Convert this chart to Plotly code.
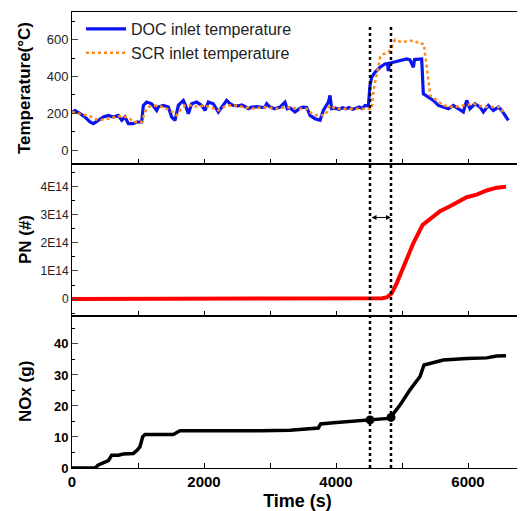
import plotly.graph_objects as go
from plotly.subplots import make_subplots

# DOC inlet temperature (s, degC)
doc_t = [0, 45, 121, 197, 273, 323, 399, 475, 551, 626, 702, 753, 803, 854, 929, 980, 1056,
         1081, 1131, 1207, 1283, 1308, 1384, 1460, 1510, 1561, 1611, 1687, 1712, 1740, 1763,
         1813, 1889, 1965, 2015, 2066, 2141, 2217, 2268, 2343, 2394, 2444, 2520, 2570, 2620,
         2672, 2722, 2800, 2870, 2924, 2950, 3000, 3076, 3151, 3227, 3260, 3300, 3379, 3455,
         3500, 3556, 3606, 3682, 3758, 3808, 3884, 3909, 3934, 3985, 4050, 4100, 4150, 4200,
         4250, 4300, 4350, 4400, 4439, 4490, 4515, 4541, 4591, 4667, 4742, 4780, 4793, 4810,
         4869, 4970, 5071, 5120, 5172, 5190, 5240, 5298, 5323, 5348, 5399, 5475, 5551, 5626,
         5702, 5778, 5853, 5929, 5980, 6030, 6106, 6182, 6232, 6308, 6384, 6460, 6510, 6561, 6611]
doc_temp = [205, 215, 198, 180, 153, 144, 162, 180, 189, 180, 189, 162, 180, 144, 144, 153, 153,
            243, 261, 252, 216, 234, 243, 234, 180, 162, 243, 270, 250, 216, 198,
            252, 261, 243, 216, 261, 252, 207, 234, 270, 252, 243, 240, 245, 238,
            225, 234, 236, 232, 234, 252, 234, 225, 234, 261, 225, 230, 207, 228,
            234, 232, 189, 171, 162, 216, 261, 297, 225, 228, 222, 230, 225, 232,
            222, 228, 234, 226, 243, 240, 351, 396, 423, 450, 468, 470, 430, 472,
            477, 486, 495, 490, 450, 492, 495, 495, 306, 300, 288, 270, 243, 234,
            225, 243, 225, 207, 270, 225, 252, 234, 207, 243, 216, 234, 216, 189, 162]

# SCR inlet temperature (s, degC)
scr_t = [0, 121, 273, 399, 551, 702, 854, 929, 1056, 1106, 1156, 1232, 1384, 1485, 1586, 1636,
         1712, 1813, 1914, 1990, 2091, 2217, 2343, 2470, 2621, 2722, 2924, 3101, 3227, 3429,
         3556, 3632, 3707, 3834, 3909, 3985, 4187, 4439, 4541, 4566, 4591, 4641, 4667, 4717,
         4793, 4843, 4894, 4995, 5096, 5197, 5260, 5330, 5370, 5404, 5429, 5530, 5631, 5783,
         5934, 6086, 6237, 6389, 6490, 6545]
scr_temp = [207, 198, 184, 162, 171, 184, 180, 153, 153, 207, 234, 243, 234, 216, 189, 216,
            243, 243, 234, 243, 234, 216, 243, 243, 234, 225, 234, 225, 234, 225,
            225, 198, 189, 189, 243, 225, 225, 225, 225, 315, 369, 450, 504, 522,
            531, 558, 600, 585, 594, 594, 577, 577, 450, 342, 297, 270, 243, 234,
            243, 252, 234, 234, 234, 198]

# cumulative particle number
pn_t = [0, 4000, 4700, 4768, 4843, 4919, 5020, 5172, 5313, 5424, 5576, 5727, 5879, 5980,
        6131, 6283, 6434, 6576]
pn = [0, 0.02e14, 0.03e14, 0.06e14, 0.2e14, 0.56e14, 1.15e14, 1.99e14, 2.64e14, 2.85e14,
      3.12e14, 3.3e14, 3.48e14, 3.62e14, 3.71e14, 3.86e14, 3.96e14, 3.99e14]

# cumulative NOx (g)
nox_t = [0, 348, 399, 475, 551, 601, 702, 778, 929, 990, 1030, 1071, 1106, 1535, 1586, 1636,
         2848, 3303, 3732, 3768, 3960, 4505, 4793, 4843, 4970, 5121, 5273, 5333, 5475, 5626,
         5980, 6283, 6434, 6576]
nox = [0, 0, 1.0, 1.7, 2.4, 4.1, 4.1, 4.5, 4.7, 5.8, 6.9, 10.1, 10.8, 10.8, 11.4, 12.0,
       12.0, 12.2, 12.9, 14.2, 14.6, 15.5, 16.0, 16.8, 20.3, 25.2, 29.5, 33.2, 34.0, 34.8,
       35.3, 35.5, 36.1, 36.2]

event_t = [4515, 4833]
event_nox = [15.5, 16.3]
arrow_pn = 2.9e14

pn_ticks = [0, 1e14, 2e14, 3e14, 4e14]
pn_labels = ["0", "1E14", "2E14", "3E14", "4E14"]

FONT = "Liberation Sans, Arial, sans-serif"

fig = make_subplots(rows=3, cols=1, shared_xaxes=True, vertical_spacing=0)

fig.add_trace(go.Scatter(x=doc_t, y=doc_temp, mode="lines", name="DOC inlet temperature",
                         line=dict(color="#0a14f0", width=3.2)), row=1, col=1)
fig.add_trace(go.Scatter(x=scr_t, y=scr_temp, mode="lines", name="SCR inlet temperature",
                         line=dict(color="#ff8a1c", width=2.5, dash="dot")), row=1, col=1)
fig.add_trace(go.Scatter(x=pn_t, y=pn, mode="lines", showlegend=False,
                         line=dict(color="#ff0000", width=4)), row=2, col=1)
fig.add_trace(go.Scatter(x=nox_t, y=nox, mode="lines", showlegend=False,
                         line=dict(color="black", width=3.5)), row=3, col=1)
fig.add_trace(go.Scatter(x=event_t, y=event_nox, mode="markers", showlegend=False,
                         marker=dict(color="black", size=9)), row=3, col=1)

# dotted event lines spanning all three panels
for t in event_t:
    fig.add_shape(type="line", xref="x", yref="paper", x0=t, x1=t, y0=0, y1=0.967,
                  line=dict(color="black", width=2.5, dash="dot"))

fig.add_annotation(x=event_t[1], y=arrow_pn, ax=event_t[0], ay=arrow_pn,
                   xref="x2", yref="y2", axref="x2", ayref="y2", text="",
                   showarrow=True, arrowhead=2, arrowside="end+start",
                   arrowsize=1, arrowwidth=1, arrowcolor="black")

axis_common = dict(showline=True, linecolor="black", linewidth=1, mirror=True,
                   ticks="inside", showgrid=False, zeroline=False)

fig.update_xaxes(range=[0, 6833], dtick=2000, ticklen=5, tickwidth=1, tickcolor="black",
                 minor=dict(dtick=1000, ticks="inside", ticklen=5, tickcolor="black"),
                 **axis_common)
fig.update_xaxes(showticklabels=False, row=1, col=1)
fig.update_xaxes(showticklabels=False, row=2, col=1)
fig.update_xaxes(tickfont=dict(size=15, color="black", family=FONT, weight="bold"),
                 title=dict(text="Time (s)", standoff=6,
                            font=dict(size=18, color="black", family=FONT, weight="bold")),
                 row=3, col=1)

fig.update_yaxes(range=[-75, 750], tickvals=[0, 200, 400, 600], ticklen=6,
                 tickfont=dict(size=13, color="#222", family=FONT),
                 minor=dict(dtick=100, ticks="inside", ticklen=3, tickcolor="black"),
                 row=1, col=1, **axis_common)
fig.update_yaxes(range=[-0.6e14, 4.8e14], tickvals=pn_ticks, ticktext=pn_labels, ticklen=6,
                 tickfont=dict(size=12, color="#222", family=FONT),
                 minor=dict(dtick=0.5e14, ticks="inside", ticklen=3, tickcolor="black"),
                 row=2, col=1, **axis_common)
fig.update_yaxes(range=[0, 49], tickvals=[0, 10, 20, 30, 40], ticklen=6,
                 tickfont=dict(size=13, color="black", family=FONT, weight="bold"),
                 minor=dict(dtick=5, ticks="inside", ticklen=3, tickcolor="black"),
                 row=3, col=1, **axis_common)

title_font = dict(size=17, color="black", family=FONT, weight="bold")
for text, yc in [("Temperature(°C)", 5 / 6), ("PN (#)", 0.5), ("NOx (g)", 1 / 6)]:
    fig.add_annotation(text=text, xref="paper", yref="paper", x=-0.104, y=yc,
                       textangle=-90, showarrow=False, font=title_font,
                       xanchor="center", yanchor="middle")

# page body adds an 8px margin, so the figure is sized to leave room for it
fig.update_layout(
    width=517, height=503,
    margin=dict(l=64, r=2, t=4, b=43),
    plot_bgcolor="white", paper_bgcolor="white",
    font=dict(family=FONT),
    legend=dict(x=0.02, y=1.0, xanchor="left", yanchor="top", bgcolor="rgba(0,0,0,0)",
                font=dict(size=16, color="#222", family=FONT), tracegroupgap=0,
                itemwidth=40),
)

fig.write_html("out.html")
